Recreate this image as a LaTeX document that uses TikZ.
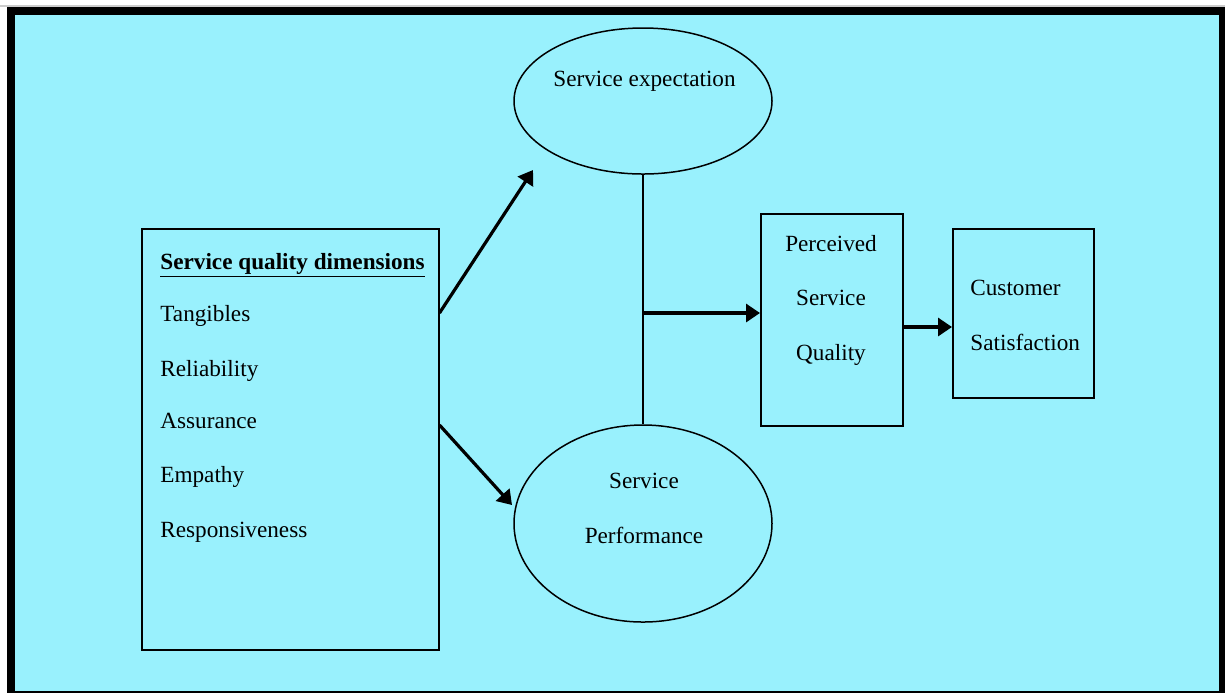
\documentclass[tikz,border=0pt]{standalone}
\usepackage{fontspec}
\setmainfont{Liberation Serif}
\usetikzlibrary{arrows.meta,shapes.geometric}
\definecolor{bgcyan}{RGB}{153,241,253}
\begin{document}
\begin{tikzpicture}[x=0.5pt,y=-0.5pt,
  txt/.style={inner sep=0pt,font=\fontsize{11.6}{13}\selectfont},
  boxline/.style={draw=black,line width=0.75pt},
  arr/.style={line width=1.6pt,-{Triangle[length=7pt,width=9pt]}},
  ell/.style={ellipse,draw=black,line width=0.75pt,inner sep=0pt}]
\useasboundingbox (0,0) rectangle (1225,693);
\fill[white] (0,0) rectangle (1225,693);
\fill[black!20] (0,5.3) rectangle (1225,6.7);
\fill[black] (7,7) rectangle (1225,693);
\fill[bgcyan] (15,15) rectangle (1219,691);
% left box
\node[boxline,rectangle,minimum width=148.5pt,minimum height=210.5pt,anchor=north west,inner sep=0pt] (dims) at (141,228) {};
\node[txt,anchor=base west] (title) at (160,269) {\textbf{\underline{Service quality dimensions}}};
\node[txt,anchor=base west] (t1) at (160,321) {Tangibles};
\node[txt,anchor=base west] (t2) at (160,376) {Reliability};
\node[txt,anchor=base west] (t3) at (160,428) {Assurance};
\node[txt,anchor=base west] (t4) at (160,482) {Empathy};
\node[txt,anchor=base west] (t5) at (160,537) {Responsiveness};
% ellipses
\node[ell,minimum width=129pt,minimum height=73pt] (expect) at (643,101) {};
\node[txt,anchor=base] (expectlbl) at (644.5,86) {Service expectation};
\node[ell,minimum width=129pt,minimum height=98.5pt] (perf) at (643,523.5) {};
\node[txt,anchor=base] (perflbl1) at (644,488) {Service};
\node[txt,anchor=base] (perflbl2) at (644,543) {Performance};
% perceived box
\node[boxline,rectangle,minimum width=71pt,minimum height=106pt,anchor=north west,inner sep=0pt] (psq) at (760,213) {};
\node[txt,anchor=base] (psq1) at (831,251) {Perceived};
\node[txt,anchor=base] (psq2) at (831,305) {Service};
\node[txt,anchor=base] (psq3) at (831,360) {Quality};
% customer box
\node[boxline,rectangle,minimum width=70.5pt,minimum height=84.5pt,anchor=north west,inner sep=0pt] (cs) at (952,228) {};
\node[txt,anchor=base west] (cs1) at (970,295) {Customer};
\node[txt,anchor=base west] (cs2) at (970,350) {Satisfaction};
% connectors
\draw[line width=0.75pt] (expect.south) -- (perf.north);
\coordinate (mid) at (643,313);
\draw[arr] (mid) -- (psq.west |- mid);
\coordinate (csy) at (902,327);
\draw[arr] (psq.east |- csy) -- (cs.west |- csy);
\coordinate (a1s) at (438,313);
\coordinate (a1e) at (533,170);
\draw[arr] (dims.east |- a1s) -- (a1e);
\coordinate (a2s) at (438,425);
\coordinate (a2e) at (512,505);
\draw[arr] (dims.east |- a2s) -- (a2e);
\end{tikzpicture}
\end{document}
